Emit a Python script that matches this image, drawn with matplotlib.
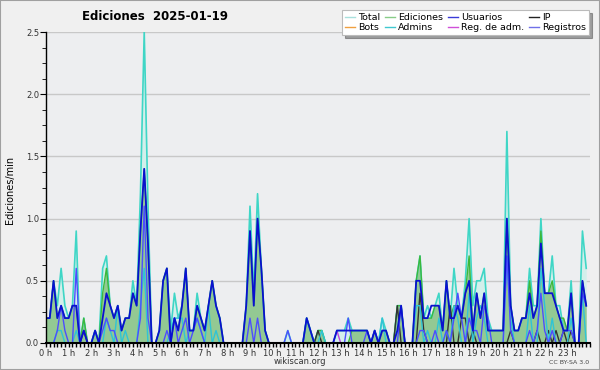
import numpy as np
import matplotlib
matplotlib.use('Agg')
import matplotlib.pyplot as plt
from matplotlib.lines import Line2D
from matplotlib.patches import Rectangle

# edits per minute, one value per 10 minutes (6 per hour, one line per hour)
total = [
    0.2, 0.2, 0.5, 0.3, 0.6, 0.3,
    0.2, 0.3, 0.9, 0.0, 0.2, 0.0,
    0.0, 0.1, 0.0, 0.6, 0.7, 0.3,
    0.2, 0.3, 0.1, 0.2, 0.2, 0.5,
    0.3, 1.2, 2.5, 1.1, 0.0, 0.0,
    0.1, 0.5, 0.6, 0.1, 0.4, 0.2,
    0.3, 0.6, 0.1, 0.1, 0.4, 0.2,
    0.1, 0.3, 0.5, 0.3, 0.2, 0.0,
    0.0, 0.0, 0.0, 0.0, 0.0, 0.3,
    1.1, 0.4, 1.2, 0.6, 0.1, 0.0,
    0.0, 0.0, 0.0, 0.0, 0.1, 0.0,
    0.0, 0.0, 0.0, 0.2, 0.1, 0.0,
    0.1, 0.1, 0.0, 0.0, 0.0, 0.1,
    0.1, 0.1, 0.2, 0.1, 0.1, 0.1,
    0.1, 0.1, 0.0, 0.1, 0.0, 0.2,
    0.1, 0.0, 0.0, 0.3, 0.3, 0.0,
    0.0, 0.0, 0.5, 0.7, 0.2, 0.3,
    0.2, 0.3, 0.4, 0.1, 0.5, 0.2,
    0.6, 0.3, 0.2, 0.5, 1.0, 0.3,
    0.5, 0.5, 0.6, 0.2, 0.1, 0.1,
    0.1, 0.1, 1.7, 0.3, 0.1, 0.1,
    0.2, 0.2, 0.6, 0.3, 0.3, 1.0,
    0.4, 0.4, 0.7, 0.3, 0.3, 0.1,
    0.1, 0.5, 0.0, 0.0, 0.9, 0.6,
]
ediciones = [
    0.2, 0.2, 0.5, 0.2, 0.3, 0.2,
    0.2, 0.3, 0.3, 0.0, 0.2, 0.0,
    0.0, 0.1, 0.0, 0.4, 0.6, 0.3,
    0.2, 0.3, 0.1, 0.2, 0.2, 0.4,
    0.3, 0.9, 1.4, 0.8, 0.0, 0.0,
    0.1, 0.5, 0.6, 0.0, 0.2, 0.1,
    0.3, 0.6, 0.1, 0.1, 0.3, 0.2,
    0.1, 0.3, 0.5, 0.3, 0.2, 0.0,
    0.0, 0.0, 0.0, 0.0, 0.0, 0.3,
    0.9, 0.3, 1.0, 0.6, 0.1, 0.0,
    0.0, 0.0, 0.0, 0.0, 0.0, 0.0,
    0.0, 0.0, 0.0, 0.2, 0.1, 0.0,
    0.1, 0.1, 0.0, 0.0, 0.0, 0.0,
    0.0, 0.0, 0.0, 0.1, 0.1, 0.1,
    0.1, 0.1, 0.0, 0.1, 0.0, 0.1,
    0.1, 0.0, 0.0, 0.3, 0.3, 0.0,
    0.0, 0.0, 0.5, 0.7, 0.2, 0.2,
    0.2, 0.3, 0.3, 0.1, 0.5, 0.2,
    0.3, 0.3, 0.2, 0.4, 0.7, 0.1,
    0.4, 0.2, 0.4, 0.1, 0.1, 0.1,
    0.1, 0.1, 1.0, 0.3, 0.1, 0.1,
    0.2, 0.2, 0.5, 0.2, 0.3, 0.9,
    0.4, 0.4, 0.5, 0.3, 0.2, 0.2,
    0.1, 0.4, 0.0, 0.0, 0.5, 0.3,
]
usuarios = [
    0.2, 0.2, 0.5, 0.2, 0.3, 0.2,
    0.2, 0.3, 0.3, 0.0, 0.1, 0.0,
    0.0, 0.1, 0.0, 0.2, 0.4, 0.3,
    0.2, 0.3, 0.1, 0.2, 0.2, 0.4,
    0.3, 0.9, 1.4, 0.8, 0.0, 0.0,
    0.1, 0.5, 0.6, 0.0, 0.2, 0.1,
    0.3, 0.6, 0.1, 0.1, 0.3, 0.2,
    0.1, 0.3, 0.5, 0.3, 0.2, 0.0,
    0.0, 0.0, 0.0, 0.0, 0.0, 0.3,
    0.9, 0.3, 1.0, 0.6, 0.1, 0.0,
    0.0, 0.0, 0.0, 0.0, 0.0, 0.0,
    0.0, 0.0, 0.0, 0.2, 0.1, 0.0,
    0.0, 0.0, 0.0, 0.0, 0.0, 0.1,
    0.1, 0.1, 0.1, 0.1, 0.1, 0.1,
    0.1, 0.1, 0.0, 0.1, 0.0, 0.1,
    0.1, 0.0, 0.0, 0.1, 0.3, 0.0,
    0.0, 0.0, 0.5, 0.5, 0.2, 0.2,
    0.3, 0.3, 0.3, 0.1, 0.5, 0.2,
    0.2, 0.3, 0.2, 0.4, 0.5, 0.1,
    0.4, 0.2, 0.4, 0.1, 0.1, 0.1,
    0.1, 0.1, 1.0, 0.3, 0.1, 0.1,
    0.2, 0.2, 0.4, 0.2, 0.3, 0.8,
    0.4, 0.4, 0.4, 0.3, 0.2, 0.1,
    0.1, 0.4, 0.0, 0.0, 0.5, 0.3,
]
ip = [
    0.0, 0.0, 0.0, 0.0, 0.0, 0.0,
    0.0, 0.0, 0.0, 0.0, 0.1, 0.0,
    0.0, 0.0, 0.0, 0.0, 0.0, 0.0,
    0.0, 0.0, 0.0, 0.0, 0.0, 0.0,
    0.0, 0.0, 0.0, 0.0, 0.0, 0.0,
    0.0, 0.0, 0.0, 0.0, 0.0, 0.0,
    0.0, 0.0, 0.0, 0.0, 0.0, 0.0,
    0.0, 0.0, 0.0, 0.0, 0.0, 0.0,
    0.0, 0.0, 0.0, 0.0, 0.0, 0.0,
    0.0, 0.0, 0.0, 0.0, 0.0, 0.0,
    0.0, 0.0, 0.0, 0.0, 0.0, 0.0,
    0.0, 0.0, 0.0, 0.0, 0.0, 0.0,
    0.1, 0.0, 0.0, 0.0, 0.0, 0.0,
    0.0, 0.0, 0.0, 0.0, 0.0, 0.0,
    0.0, 0.0, 0.0, 0.0, 0.0, 0.0,
    0.0, 0.0, 0.0, 0.3, 0.0, 0.0,
    0.0, 0.0, 0.0, 0.4, 0.1, 0.0,
    0.0, 0.0, 0.0, 0.0, 0.0, 0.3,
    0.0, 0.0, 0.2, 0.2, 0.0, 0.1,
    0.0, 0.0, 0.0, 0.0, 0.0, 0.0,
    0.0, 0.0, 0.0, 0.1, 0.0, 0.0,
    0.0, 0.0, 0.0, 0.0, 0.1, 0.0,
    0.0, 0.1, 0.0, 0.1, 0.0, 0.1,
    0.0, 0.1, 0.0, 0.0, 0.0, 0.0,
]
bots = [0.0] * 144
admins = [
    0.0, 0.0, 0.0, 0.1, 0.1, 0.0,
    0.0, 0.0, 0.1, 0.0, 0.0, 0.0,
    0.0, 0.1, 0.0, 0.0, 0.2, 0.1,
    0.0, 0.3, 0.0, 0.1, 0.0, 0.0,
    0.0, 0.3, 0.6, 0.0, 0.0, 0.0,
    0.0, 0.0, 0.0, 0.1, 0.2, 0.2,
    0.2, 0.0, 0.1, 0.1, 0.2, 0.1,
    0.0, 0.3, 0.0, 0.1, 0.0, 0.0,
    0.0, 0.0, 0.0, 0.0, 0.0, 0.0,
    0.0, 0.0, 0.0, 0.0, 0.0, 0.0,
    0.0, 0.0, 0.0, 0.0, 0.0, 0.0,
    0.0, 0.0, 0.0, 0.2, 0.1, 0.0,
    0.0, 0.1, 0.0, 0.0, 0.0, 0.0,
    0.0, 0.0, 0.0, 0.0, 0.0, 0.0,
    0.0, 0.0, 0.0, 0.0, 0.0, 0.2,
    0.0, 0.0, 0.0, 0.0, 0.0, 0.0,
    0.0, 0.0, 0.3, 0.3, 0.0, 0.1,
    0.0, 0.0, 0.2, 0.0, 0.1, 0.0,
    0.3, 0.2, 0.0, 0.0, 0.4, 0.0,
    0.2, 0.3, 0.2, 0.0, 0.0, 0.0,
    0.0, 0.0, 0.7, 0.2, 0.0, 0.0,
    0.0, 0.0, 0.3, 0.0, 0.0, 0.6,
    0.3, 0.0, 0.2, 0.0, 0.0, 0.0,
    0.0, 0.2, 0.0, 0.0, 0.4, 0.0,
]
reg_adm = [0.0] * 77 + [0.1] + [0.0] * 66
registros = [
    0.0, 0.0, 0.0, 0.1, 0.3, 0.1,
    0.0, 0.0, 0.6, 0.0, 0.0, 0.0,
    0.0, 0.0, 0.0, 0.1, 0.2, 0.1,
    0.1, 0.0, 0.0, 0.0, 0.0, 0.0,
    0.0, 0.2, 1.1, 0.2, 0.0, 0.0,
    0.0, 0.0, 0.1, 0.0, 0.2, 0.0,
    0.1, 0.2, 0.0, 0.1, 0.2, 0.1,
    0.0, 0.0, 0.0, 0.0, 0.0, 0.0,
    0.0, 0.0, 0.0, 0.0, 0.0, 0.0,
    0.2, 0.0, 0.2, 0.0, 0.0, 0.0,
    0.0, 0.0, 0.0, 0.0, 0.1, 0.0,
    0.0, 0.0, 0.0, 0.0, 0.0, 0.0,
    0.0, 0.0, 0.0, 0.0, 0.0, 0.0,
    0.0, 0.0, 0.2, 0.0, 0.0, 0.0,
    0.0, 0.1, 0.0, 0.1, 0.0, 0.0,
    0.0, 0.0, 0.0, 0.0, 0.3, 0.0,
    0.0, 0.0, 0.0, 0.1, 0.1, 0.0,
    0.0, 0.1, 0.0, 0.0, 0.1, 0.0,
    0.2, 0.4, 0.2, 0.0, 0.2, 0.1,
    0.1, 0.0, 0.3, 0.2, 0.0, 0.0,
    0.0, 0.0, 0.7, 0.1, 0.0, 0.0,
    0.0, 0.0, 0.1, 0.0, 0.1, 0.4,
    0.1, 0.0, 0.1, 0.0, 0.0, 0.1,
    0.1, 0.1, 0.0, 0.0, 0.4, 0.3,
]
hour_labels = ['%d h' % h for h in range(24)]

t = np.arange(len(total)) / 6.0

fig = plt.figure(figsize=(6, 3.7), dpi=100, facecolor='#f0f0f0')
ax = fig.add_axes([46/600, 1-343/370, 544/600, 311/370])
ax.set_facecolor('#edeef0')

ax.fill_between(t, total, color='#d3efeb', lw=0)
ax.fill_between(t, ediciones, color='#93c993', lw=0)
ax.plot(t, total, color='#3fd6c6', lw=1.2)
ax.plot(t, ediciones, color='#3cb83c', lw=1.0)
ax.plot(t, bots, color='#ff9933', lw=1.0)
ax.plot(t, ip, color='#333333', lw=1.0)
ax.plot(t, admins, color='#2fc4d6', lw=1.0)
ax.plot(t, reg_adm, color='#c040e0', lw=1.0)
ax.plot(t, registros, color='#4d4dff', lw=1.0)
ax.plot(t, usuarios, color='#0a10d0', lw=1.3)

ax.set_xlim(0, 24)
ax.set_ylim(0, 2.5)
ax.set_yticks(np.arange(0, 2.51, 0.5))
ax.set_yticks(np.arange(0, 2.51, 0.125), minor=True)
ax.set_yticklabels(['%.1f' % v for v in np.arange(0, 2.51, 0.5)])
ax.set_xticks(range(24))
ax.set_xticks(np.arange(0, 24.01, 1/6.), minor=True)
ax.set_xticklabels(hour_labels)
ax.yaxis.grid(True, color='#c8c8c8', lw=1)
ax.set_axisbelow(True)
for s in ['top', 'right']:
    ax.spines[s].set_visible(False)
ax.spines['left'].set_linewidth(1)
ax.spines['bottom'].set_linewidth(1.5)
ax.tick_params(axis='both', which='both', direction='out', color='black',
               labelsize=6, labelcolor='#333333', pad=1)
ax.tick_params(axis='x', which='both', length=3, width=1)
ax.tick_params(axis='y', which='major', length=4)
ax.tick_params(axis='y', which='minor', length=3)

fig.text(155/600, 1-17/370, 'Ediciones  2025-01-19', ha='center', va='center',
         fontsize=8.5, fontweight='bold')
fig.text(10/600, 1-190/370, 'Ediciones/min', rotation=90, ha='center', va='center',
         fontsize=7)
fig.text(300/600, 1-362/370, 'wikiscan.org', ha='center', va='center',
         fontsize=6, color='#333333')
fig.text(589/600, 1-362/370, 'CC BY-SA 3.0', ha='right', va='center',
         fontsize=4.5, color='#444444')

names = ['Total', 'Bots', 'Ediciones', 'Admins', 'Usuarios', 'Reg. de adm.',
         'IP', 'Registros']
cols = ['#a8e0dc', '#f0a040', '#88cc88', '#40c8d0', '#3a3ad8', '#d050d8',
        '#222222', '#7070e8']
handles = [Line2D([0], [0], color=c, lw=1) for c in cols]
leg = fig.legend(handles, names, ncol=4, loc='upper right',
                 bbox_to_anchor=(589/600, 1-10/370), fontsize=6.8, frameon=True,
                 fancybox=False, shadow=True, edgecolor='#bbbbbb',
                 handlelength=1.1, columnspacing=0.5, handletextpad=0.3,
                 labelspacing=0.15, borderpad=0.3, borderaxespad=0)
leg.get_frame().set_linewidth(0.8)

fig.patches.append(Rectangle((0, 0), 1, 1, transform=fig.transFigure,
                             fill=False, edgecolor='#a0a0a0', lw=1.5))

fig.savefig('out.png', dpi=100, facecolor=fig.get_facecolor())
